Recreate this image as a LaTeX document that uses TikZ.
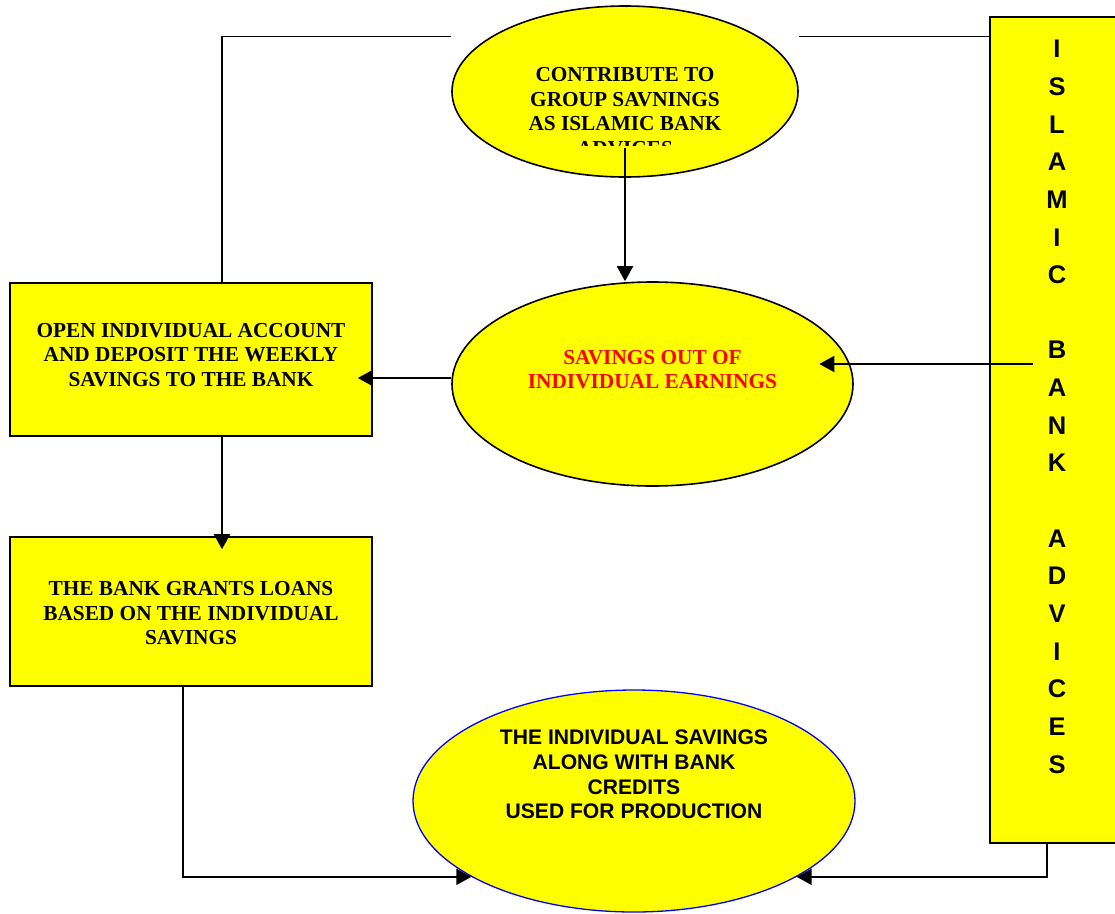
\documentclass[tikz,border=0pt]{standalone}
\usepackage{fontspec}
\setmainfont{Liberation Serif}
\newfontfamily\arialfont{Liberation Sans}
\usetikzlibrary{arrows.meta, shapes.geometric}
\definecolor{plainyellow}{RGB}{255,255,0}
\definecolor{plainred}{RGB}{255,0,0}
\definecolor{plainblue}{RGB}{0,0,255}

\begin{document}
\begin{tikzpicture}[x=1pt, y=-1pt,
    timesfont/.style={font=\fontsize{21.3}{24.5}\selectfont\bfseries},
    arialfont/.style={font=\arialfont\fontsize{21.1}{24.6}\selectfont\bfseries},
    yelbox/.style={rectangle, draw=black, fill=plainyellow, line width=1.6pt,
      minimum width=362pt, align=center, timesfont, inner sep=0pt},
    yelellipse/.style={ellipse, draw=black, fill=plainyellow, line width=1.6pt, inner sep=0pt},
    txt/.style={align=center, inner sep=0pt},
    link/.style={line width=1.9pt, black},
    arr/.style={link, -{Triangle[length=15pt, width=16pt]}}
  ]
    \useasboundingbox (0,0) rectangle (1115,913);
    \clip (0,0) rectangle (1115,913);

    \node[yelellipse, minimum width=346pt, minimum height=171pt] (group) at (625,91.5) {};
    \begin{scope}
      \clip (452,0) rectangle (798,145);
      \node[txt, timesfont] (grouptxt) at (625,111.8)
        {CONTRIBUTE TO\\GROUP SAVNINGS\\AS ISLAMIC BANK\\ADVICES};
    \end{scope}

    \node[yelellipse, minimum width=401pt, minimum height=204pt] (mid) at (652.5,384) {};
    \node[txt, timesfont, text=plainred] (midtxt) at (652.5,369.8)
      {SAVINGS OUT OF\\INDIVIDUAL EARNINGS};

    \node[yelbox, minimum height=153pt] (open) at (191,359.5) {};
    \node[txt, timesfont] (opentxt) at (191,355)
      {OPEN INDIVIDUAL ACCOUNT\\AND DEPOSIT THE WEEKLY\\SAVINGS TO THE BANK};
    \node[yelbox, minimum height=149pt] (loans) at (191,611.5) {};
    \node[txt, timesfont] (loanstxt) at (191,613.5)
      {THE BANK GRANTS LOANS\\BASED ON THE INDIVIDUAL\\SAVINGS};

    \node[ellipse, draw=plainblue, fill=plainyellow, line width=1.3pt, inner sep=0pt,
      minimum width=442pt, minimum height=222pt] (prod) at (634,801) {};
    \node[txt, arialfont] (prodtxt) at (634,774.5)
      {THE INDIVIDUAL SAVINGS\\ALONG WITH BANK\\CREDITS\\USED FOR PRODUCTION};

    \node[rectangle, draw=black, fill=plainyellow, line width=1.6pt,
      minimum width=135pt, minimum height=826pt] (bar) at (1057.5,430) {};
    \node[txt, font=\arialfont\fontsize{25.5}{37.65}\selectfont\bfseries] (bartxt) at (1057,406.8)
      {I\\S\\L\\A\\M\\I\\C\\[37.65pt]B\\A\\N\\K\\[37.65pt]A\\D\\V\\I\\C\\E\\S};

    % connectors
    \coordinate (barout) at (1033,364);
    \draw[arr] ([yshift=-56.5pt]group.center) -- (group.center |- mid.north);
    \draw[arr] ([yshift=6pt]mid.west) -- ([yshift=6pt, xshift=-15pt]mid.west -| open.east);
    \draw[arr] (barout) -- ([xshift=-34.5pt]barout -| mid.east);
    \draw[link] ([xshift=31pt]open.north) |- ([yshift=55pt]group.west);
    \draw[link] ([yshift=55pt]group.east) -- ([yshift=55pt]group.east -| bar.west);
    \draw[arr] ([xshift=31pt]open.south) -- ([xshift=31pt, yshift=-13pt]loans.north);
    \draw[arr] ([xshift=-8pt]loans.south) |- (prod.205);
    \draw[arr] ([xshift=-10.5pt]bar.south) |- (prod.335);
\end{tikzpicture}
\end{document}
